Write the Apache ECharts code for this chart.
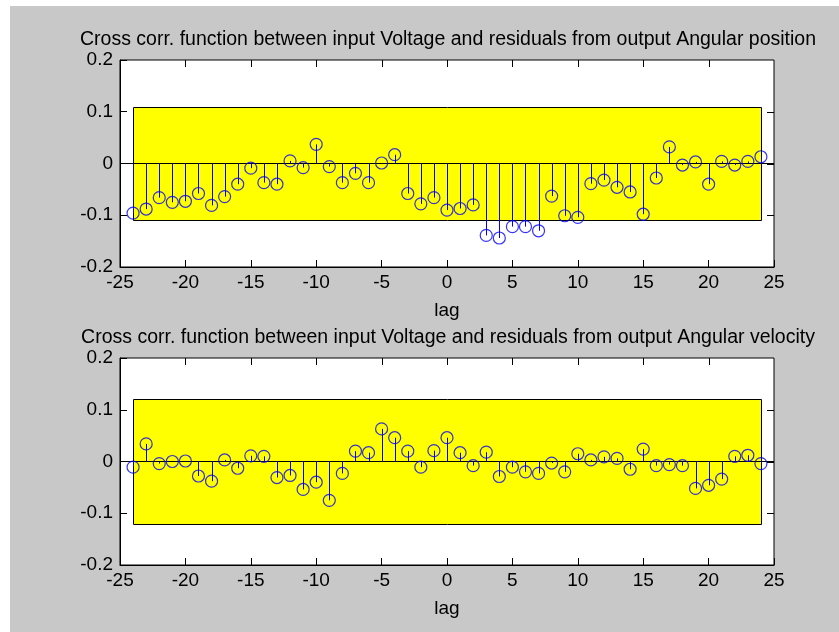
<!DOCTYPE html>
<html>
<head>
<meta charset="utf-8">
<script src="https://cdn.jsdelivr.net/npm/echarts@6/dist/echarts.min.js"></script>
<style>
html,body{margin:0;padding:0;background:#fff;}
#chart{position:absolute;left:10px;top:6px;width:829px;height:626px;background:#c8c8c8;}
</style>
</head>
<body>
<div id="chart"></div>
<script>
const lags = [-24,-23,-22,-21,-20,-19,-18,-17,-16,-15,-14,-13,-12,-11,-10,-9,-8,-7,-6,-5,-4,-3,-2,-1,0,1,2,3,4,5,6,7,8,9,10,11,12,13,14,15,16,17,18,19,20,21,22,23,24];
const posCorr = [-0.096,-0.088,-0.066,-0.075,-0.073,-0.058,-0.081,-0.064,-0.040,-0.009,-0.037,-0.040,0.005,-0.008,0.037,-0.006,-0.037,-0.019,-0.037,0.001,0.017,
  -0.058,-0.078,-0.066,-0.090,-0.087,-0.080,-0.139,-0.144,-0.122,-0.122,-0.130,-0.063,-0.101,-0.104,-0.039,-0.032,-0.046,-0.055,-0.098,-0.028,0.032,-0.003,0.003,-0.040,0.004,-0.003,0.004,0.013];
const velCorr = [-0.011,0.034,-0.004,0.000,0.001,-0.028,-0.038,0.003,-0.013,0.011,0.010,-0.031,-0.027,-0.054,-0.040,-0.075,-0.023,0.020,0.017,0.063,0.046,0.020,-0.011,
  0.021,0.046,0.017,-0.008,0.018,-0.029,-0.011,-0.020,-0.023,-0.003,-0.020,0.015,0.003,0.009,0.006,-0.015,0.024,-0.008,-0.006,-0.008,-0.052,-0.046,-0.034,0.010,0.012,-0.004];
const posBand = 0.109;
const velBand = 0.12;
const bandLags = [-24, 24];
const xTicks = [-25, 25, 5];
const yTicks = [-0.2, 0.2, 0.1];
const xTickValues = [-20, -15, -10, -5, 0, 5, 10, 15, 20];
const yTickValues = [-0.1, 0, 0.1];
const titles = [
  'Cross corr. function between input Voltage and residuals from output Angular position',
  'Cross corr. function between input Voltage and residuals from output Angular velocity'
];
const xName = 'lag';

const FONT = '"Liberation Sans", Arial, sans-serif';
const grids = [
  {left: 110, top: 54, width: 654, height: 207},
  {left: 110, top: 352, width: 654, height: 207}
];
const HIDDEN = 'rgba(0,0,0,0)';
const TICK = 7;

const option = {
  animation: false,
  backgroundColor: '#c8c8c8',
  textStyle: {fontFamily: FONT, color: '#000'},
  title: titles.map((t, i) => ({
    text: t, left: grids[i].left + grids[i].width / 2 - 4, textAlign: 'center',
    top: grids[i].top - 35,
    textStyle: {fontFamily: FONT, fontSize: 19.5, fontWeight: 'normal', color: '#000'}
  })),
  grid: grids.map(g => Object.assign({show: true, backgroundColor: '#fff', borderColor: '#000', borderWidth: 1}, g)),
  xAxis: [],
  yAxis: [],
  series: []
};

[0, 1].forEach(i => {
  option.xAxis.push({
    min: xTicks[0], max: xTicks[1], interval: xTicks[2], type: 'value', gridIndex: i, splitLine: {show: false},
    position: 'bottom',
    name: xName, nameLocation: 'middle', nameGap: 34,
    nameTextStyle: {fontFamily: FONT, fontSize: 19, color: '#000'},
    axisLine: {show: true, onZero: false, lineStyle: {color: '#000', width: 1}},
    axisTick: {show: true, inside: true, length: TICK, lineStyle: {color: '#000', width: 1}},
    axisLabel: {fontFamily: FONT, fontSize: 19, color: '#000', margin: 6}
  });
  option.yAxis.push({
    min: yTicks[0], max: yTicks[1], interval: yTicks[2], type: 'value', gridIndex: i, splitLine: {show: false},
    position: 'left',
    axisLine: {show: true, onZero: false, lineStyle: {color: '#000', width: 1}},
    axisTick: {show: true, inside: true, length: TICK, lineStyle: {color: '#000', width: 1}},
    axisLabel: {fontFamily: FONT, fontSize: 19, color: '#000', margin: 7}
  });

  const vals = i === 0 ? posCorr : velCorr;
  const band = i === 0 ? posBand : velBand;
  const data = lags.map((l, k) => [l, vals[k]]);
  const xi = i, yi = i;

  // confidence band
  option.series.push({
    type: 'custom', xAxisIndex: xi, yAxisIndex: yi, z: 1, silent: true,
    data: [[bandLags[0], bandLags[1], -band, band]],
    renderItem: (params, api) => {
      const p0 = api.coord([api.value(0), api.value(3)]);
      const p1 = api.coord([api.value(1), api.value(2)]);
      const x0 = Math.round(p0[0]) + 0.5, y0 = Math.round(p0[1]) + 0.5;
      const x1 = Math.round(p1[0]) + 0.5, y1 = Math.round(p1[1]) + 0.5;
      return {type: 'rect', shape: {x: x0, y: y0, width: x1 - x0, height: y1 - y0},
        style: {fill: '#ffff00', stroke: '#000', lineWidth: 1}};
    }
  });
  // zero line
  option.series.push({
    type: 'line', xAxisIndex: xi, yAxisIndex: yi, z: 2, silent: true,
    data: [[xTicks[0], 0], [xTicks[1], 0]], showSymbol: false,
    lineStyle: {color: '#000', width: 1}
  });
  // top ticks
  option.series.push({
    type: 'custom', xAxisIndex: xi, yAxisIndex: yi, z: 6,
    data: xTickValues.map(v => [v, yTicks[1]]),
    renderItem: (params, api) => {
      const p = api.coord([api.value(0), api.value(1)]);
      const x = Math.round(p[0]) + 0.5;
      return {type: 'line', shape: {x1: x, y1: p[1], x2: x, y2: p[1] + TICK},
        style: {stroke: '#000', lineWidth: 1}};
    }
  });
  // right ticks
  option.series.push({
    type: 'custom', xAxisIndex: xi, yAxisIndex: yi, z: 6,
    data: yTickValues.map(v => [xTicks[1], v]),
    renderItem: (params, api) => {
      const p = api.coord([api.value(0), api.value(1)]);
      const y = Math.round(p[1]) + 0.5;
      return {type: 'line', shape: {x1: p[0], y1: y, x2: p[0] - TICK, y2: y},
        style: {stroke: '#000', lineWidth: 1}};
    }
  });
  // stems
  option.series.push({
    type: 'custom', xAxisIndex: xi, yAxisIndex: yi, z: 3, silent: true,
    data: data,
    renderItem: (params, api) => {
      const p0 = api.coord([api.value(0), 0]);
      const p1 = api.coord([api.value(0), api.value(1)]);
      const x = Math.round(p0[0]) + 0.5;
      return {type: 'line', shape: {x1: x, y1: p0[1], x2: x, y2: p1[1]},
        style: {stroke: '#0000ff', lineWidth: 1}};
    }
  });
  // markers
  option.series.push({
    type: 'scatter', xAxisIndex: xi, yAxisIndex: yi, z: 4, silent: true,
    data: data, symbol: 'circle', symbolSize: 12,
    itemStyle: {color: HIDDEN, borderColor: '#0000ff', borderWidth: 1.2}
  });
});

const chart = echarts.init(document.getElementById('chart'), null, {renderer: 'canvas'});
chart.setOption(option);
</script>
</body>
</html>
